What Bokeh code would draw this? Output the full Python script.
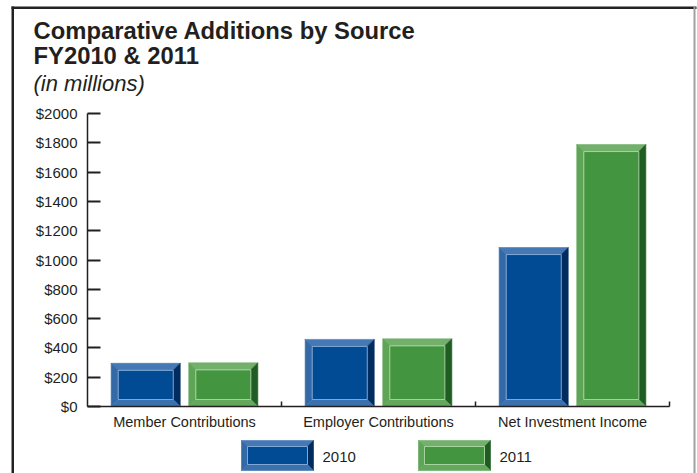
from bokeh.plotting import figure
from bokeh.models import Range1d, FixedTicker, LinearAxis
from bokeh.core.properties import value
from bokeh.embed import file_html
from bokeh.resources import INLINE

# ---- data ----
categories = ["Member Contributions", "Employer Contributions", "Net Investment Income"]
years = ["2010", "2011"]
values_2010 = [295, 458, 1085]
values_2011 = [298, 462, 1788]
y_ticks = [0, 200, 400, 600, 800, 1000, 1200, 1400, 1600, 1800, 2000]
y_tick_labels = ["$0", "$200", "$400", "$600", "$800", "$1000", "$1200",
                 "$1400", "$1600", "$1800", "$2000"]
title_lines = ["Comparative Additions by Source", "FY2010 & 2011", "(in millions)"]

# ---- layout / styles ----
W, H = 697, 473
FL, FR, FT, FB = 87, 669, 113, 406          # plotting area in canvas pixels
NCAT = len(categories)
YMAX = y_ticks[-1]
ux = NCAT / (FR - FL)                        # data units per pixel (x)
uy = YMAX / (FB - FT)                        # data units per pixel (y)
XS = -FL * ux
XE = NCAT + (W - FR) * ux
YS = -(H - FB) * uy
YE = YMAX + FT * uy


def sx(px):
    return XS + px * ux


def sy(py):
    return YE - py * uy


FONT = "Liberation Sans"
INK = "#231f20"
BLUE = dict(face="#004b93", top="#4579b5", left="#3469a8", right="#002c60",
            bottom="#3b71ae", inner="#7fa6d4")
GREEN = dict(face="#439540", top="#72b06b", left="#5ea557", right="#1f5d22",
             bottom="#63a85c", inner="#a6d29f")
palettes = [BLUE, GREEN]
offsets = [-0.2, 0.2]
half_w = 0.178
BEV = 7  # px

p = figure(width=W, height=H, x_range=Range1d(XS, XE), y_range=Range1d(YS, YE),
           output_backend="svg", toolbar_location=None,
           x_axis_location=None, y_axis_location=None,
           min_border=0, min_border_left=0, min_border_right=0,
           min_border_top=0, min_border_bottom=0)
p.grid.visible = False
p.outline_line_color = None
p.background_fill_color = "white"
p.border_fill_color = "white"


def bevel(L, R, B, T, bx, by, pal):
    iL, iR, iB, iT = L + bx, R - bx, B + by, T - by
    return [
        ([L, R, iR, iL], [T, T, iT, iT], pal["top"]),
        ([L, iL, iL, L], [B, iB, iT, T], pal["left"]),
        ([R, R, iR, iR], [B, T, iT, iB], pal["right"]),
        ([L, R, iR, iL], [B, B, iB, iB], pal["bottom"]),
    ], (iL, iR, iB, iT)


def draw_beveled(Ls, Rs, Bs, Ts, bx, by, pal):
    xs, ys, cs = [], [], []
    fl, fr, fb, ft = [], [], [], []
    for L, R, B, T in zip(Ls, Rs, Bs, Ts):
        pieces, (iL, iR, iB, iT) = bevel(L, R, B, T, bx, by, pal)
        for a, b, col in pieces:
            xs.append(a); ys.append(b); cs.append(col)
        fl.append(iL); fr.append(iR); fb.append(iB); ft.append(iT)
    p.quad(left=fl, right=fr, bottom=fb, top=ft, fill_color=pal["face"], line_color=None)
    p.patches(xs, ys, fill_color=cs, line_color=cs, line_width=0.6)
    p.quad(left=fl, right=fr, bottom=fb, top=ft, fill_color=None,
           line_color=pal["inner"], line_width=1)


# bars
for series, pal, off in zip([values_2010, values_2011], palettes, offsets):
    cs_ = [i + 0.5 + off for i in range(NCAT)]
    draw_beveled([c - half_w for c in cs_], [c + half_w for c in cs_],
                 [0] * NCAT, series, BEV * ux, BEV * uy, pal)

# y axis (fixed at x = 0)
ya = LinearAxis(fixed_location=0, bounds=(0, YMAX))
ya.ticker = FixedTicker(ticks=y_ticks)
ya.major_label_overrides = dict(zip(y_ticks, y_tick_labels))
ya.major_tick_in = 13
ya.major_tick_out = 0
ya.major_tick_line_width = 2
ya.major_tick_line_color = INK
ya.minor_tick_line_color = None
ya.axis_line_color = INK
ya.axis_line_width = 1.5
ya.major_label_standoff = 10
ya.major_label_text_font = FONT
ya.major_label_text_font_size = "15px"
ya.major_label_text_color = INK
p.add_layout(ya, "left")

# x axis (fixed at y = 0)
centers = [i + 0.5 for i in range(NCAT)]
bounds = [i + 1 for i in range(NCAT)]
xa = LinearAxis(fixed_location=0, bounds=(0, NCAT))
xa.ticker = FixedTicker(ticks=centers, minor_ticks=bounds)
xa.major_label_overrides = dict(zip(centers, categories))
xa.major_tick_line_color = None
xa.minor_tick_in = 5
xa.minor_tick_out = 0
xa.minor_tick_line_color = INK
xa.minor_tick_line_width = 1.5
xa.axis_line_color = INK
xa.axis_line_width = 1.5
xa.major_label_standoff = 1
xa.major_label_text_font = FONT
xa.major_label_text_font_size = "14.5px"
xa.major_label_text_color = INK
p.add_layout(xa, "below")

# titles
title_y = [30, 55, 83]
title_style = ["bold", "bold", "italic"]
title_size = ["23.8px", "23.8px", "22px"]
for txt, yb, st, sz in zip(title_lines, title_y, title_style, title_size):
    p.text(x=[sx(33)], y=[sy(yb)], text=[txt], text_font=value(FONT),
           text_font_style=st, text_font_size=sz, text_color=INK,
           text_baseline="alphabetic", text_align="left")

# outer frame
p.quad(left=[sx(11), sx(11), sx(693)], right=[sx(13.5), sx(696), sx(695)],
       top=[sy(6), sy(6), sy(6)], bottom=[sy(480), sy(8.5), sy(480)],
       fill_color=["#222222", "#222222", "#a0a0a0"], line_color=None)

# legend
leg_x = [241, 418]
for yr, pal, lx in zip(years, palettes, leg_x):
    draw_beveled([sx(lx)], [sx(lx + 72)], [sy(470)], [sy(440)], 6 * ux, 6 * uy, pal)
    p.text(x=[sx(lx + 81)], y=[sy(456)], text=[yr], text_font=value(FONT),
           text_font_size="15px", text_color=INK, text_baseline="middle",
           text_align="left")

open("out.html", "w").write(file_html(p, INLINE))
